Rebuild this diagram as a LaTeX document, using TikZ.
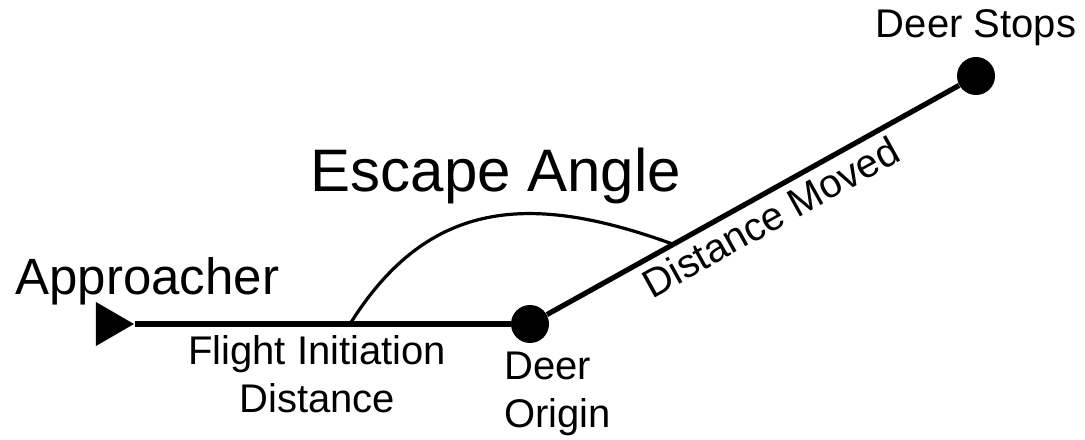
\documentclass[tikz,border=0pt]{standalone}
\usepackage{fontspec}
\setmainfont{Liberation Sans}
\usetikzlibrary{positioning,calc,shapes.geometric}

\begin{document}
\begin{tikzpicture}[
      x=0.5pt, y=0.5pt,
      dot/.style={circle, fill, inner sep=0pt, minimum size=19pt},
      track/.style={line width=2.6pt},
      anglearc/.style={line width=1.6pt},
      lbl/.style={font=\fontsize{20}{24}\selectfont, inner sep=2pt},
      biglbl/.style={font=\fontsize{25.5}{30}\selectfont, inner sep=0pt},
      title/.style={font=\fontsize{30}{36}\selectfont, inner sep=0pt}]
    \useasboundingbox (0,0) rectangle (1085,439);
    \node[isosceles triangle, isosceles triangle stretches, fill, inner sep=0pt,
          minimum width=22pt, minimum height=19pt, anchor=apex] (appr) at (135,115) {};
    \node[dot] (origin) at (530,115) {};
    \node[dot] (stops) at (976,363) {};
    \node[biglbl, anchor=base west] (apprlbl) at (15,145) {Approacher};
    \node[lbl, above=3pt of stops] (stopslbl) {Deer Stops};
    \node[lbl, align=left, anchor=north west] (originlbl) at ([xshift=-15pt, yshift=-2pt]origin.south) {Deer\\ Origin};
    \draw[track] (appr.apex) -- node[lbl, below=2.5pt, pos=0.485, align=center] (fid) {Flight Initiation\\ Distance} (origin);
    \draw[track] (origin) -- node[lbl, below=2pt, sloped, pos=0.515, inner sep=1pt] (dm) {Distance Moved} (stops);
    \coordinate (a1) at ($(origin.center)!90pt!(appr.apex)$);
    \coordinate (a2) at ($(origin.center)!82pt!(stops.center)$);
    \draw[anglearc] (a1) to[out=58, in=160, looseness=1.15] (a2);
    \node[title, anchor=base] (esc) at (496,247) {Escape Angle};
\end{tikzpicture}
\end{document}
